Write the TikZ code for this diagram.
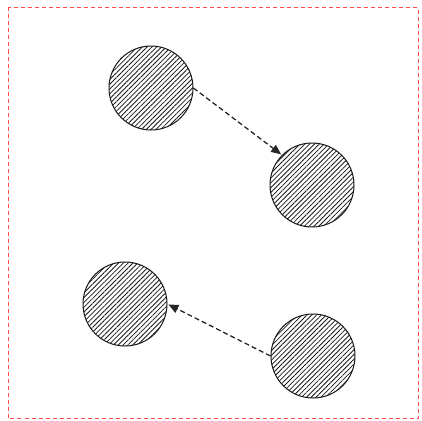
\documentclass[tikz,border=0pt]{standalone}
\usetikzlibrary{patterns.meta,arrows.meta}
\begin{document}
\begin{tikzpicture}[x=1pt,y=-1pt,
  ball/.style={circle, draw=black!90, line width=1pt, minimum size=84pt, inner sep=0pt,
    pattern={Lines[angle=45,distance=3.4pt,line width=0.8pt]}, pattern color=black!90},
  link/.style={draw=black!85, line width=1.3pt, dash pattern=on 5pt off 3pt,
    -{Triangle[length=10pt,width=8.5pt]}, shorten >=1pt},
  frame/.style={draw=red!70!white, line width=0.7pt, dash pattern=on 4pt off 3pt}]
\useasboundingbox (0,0) rectangle (422,420);
\draw[frame] (8,7.5) rectangle (418,418);
\node[ball] (a) at (151,88) {};
\node[ball] (b) at (312,185) {};
\node[ball] (c) at (125,304) {};
\node[ball] (d) at (313,356) {};
\draw[link] (a.east) -- (b.north west);
\draw[link] (d.west) -- (c.east);
\end{tikzpicture}
\end{document}
